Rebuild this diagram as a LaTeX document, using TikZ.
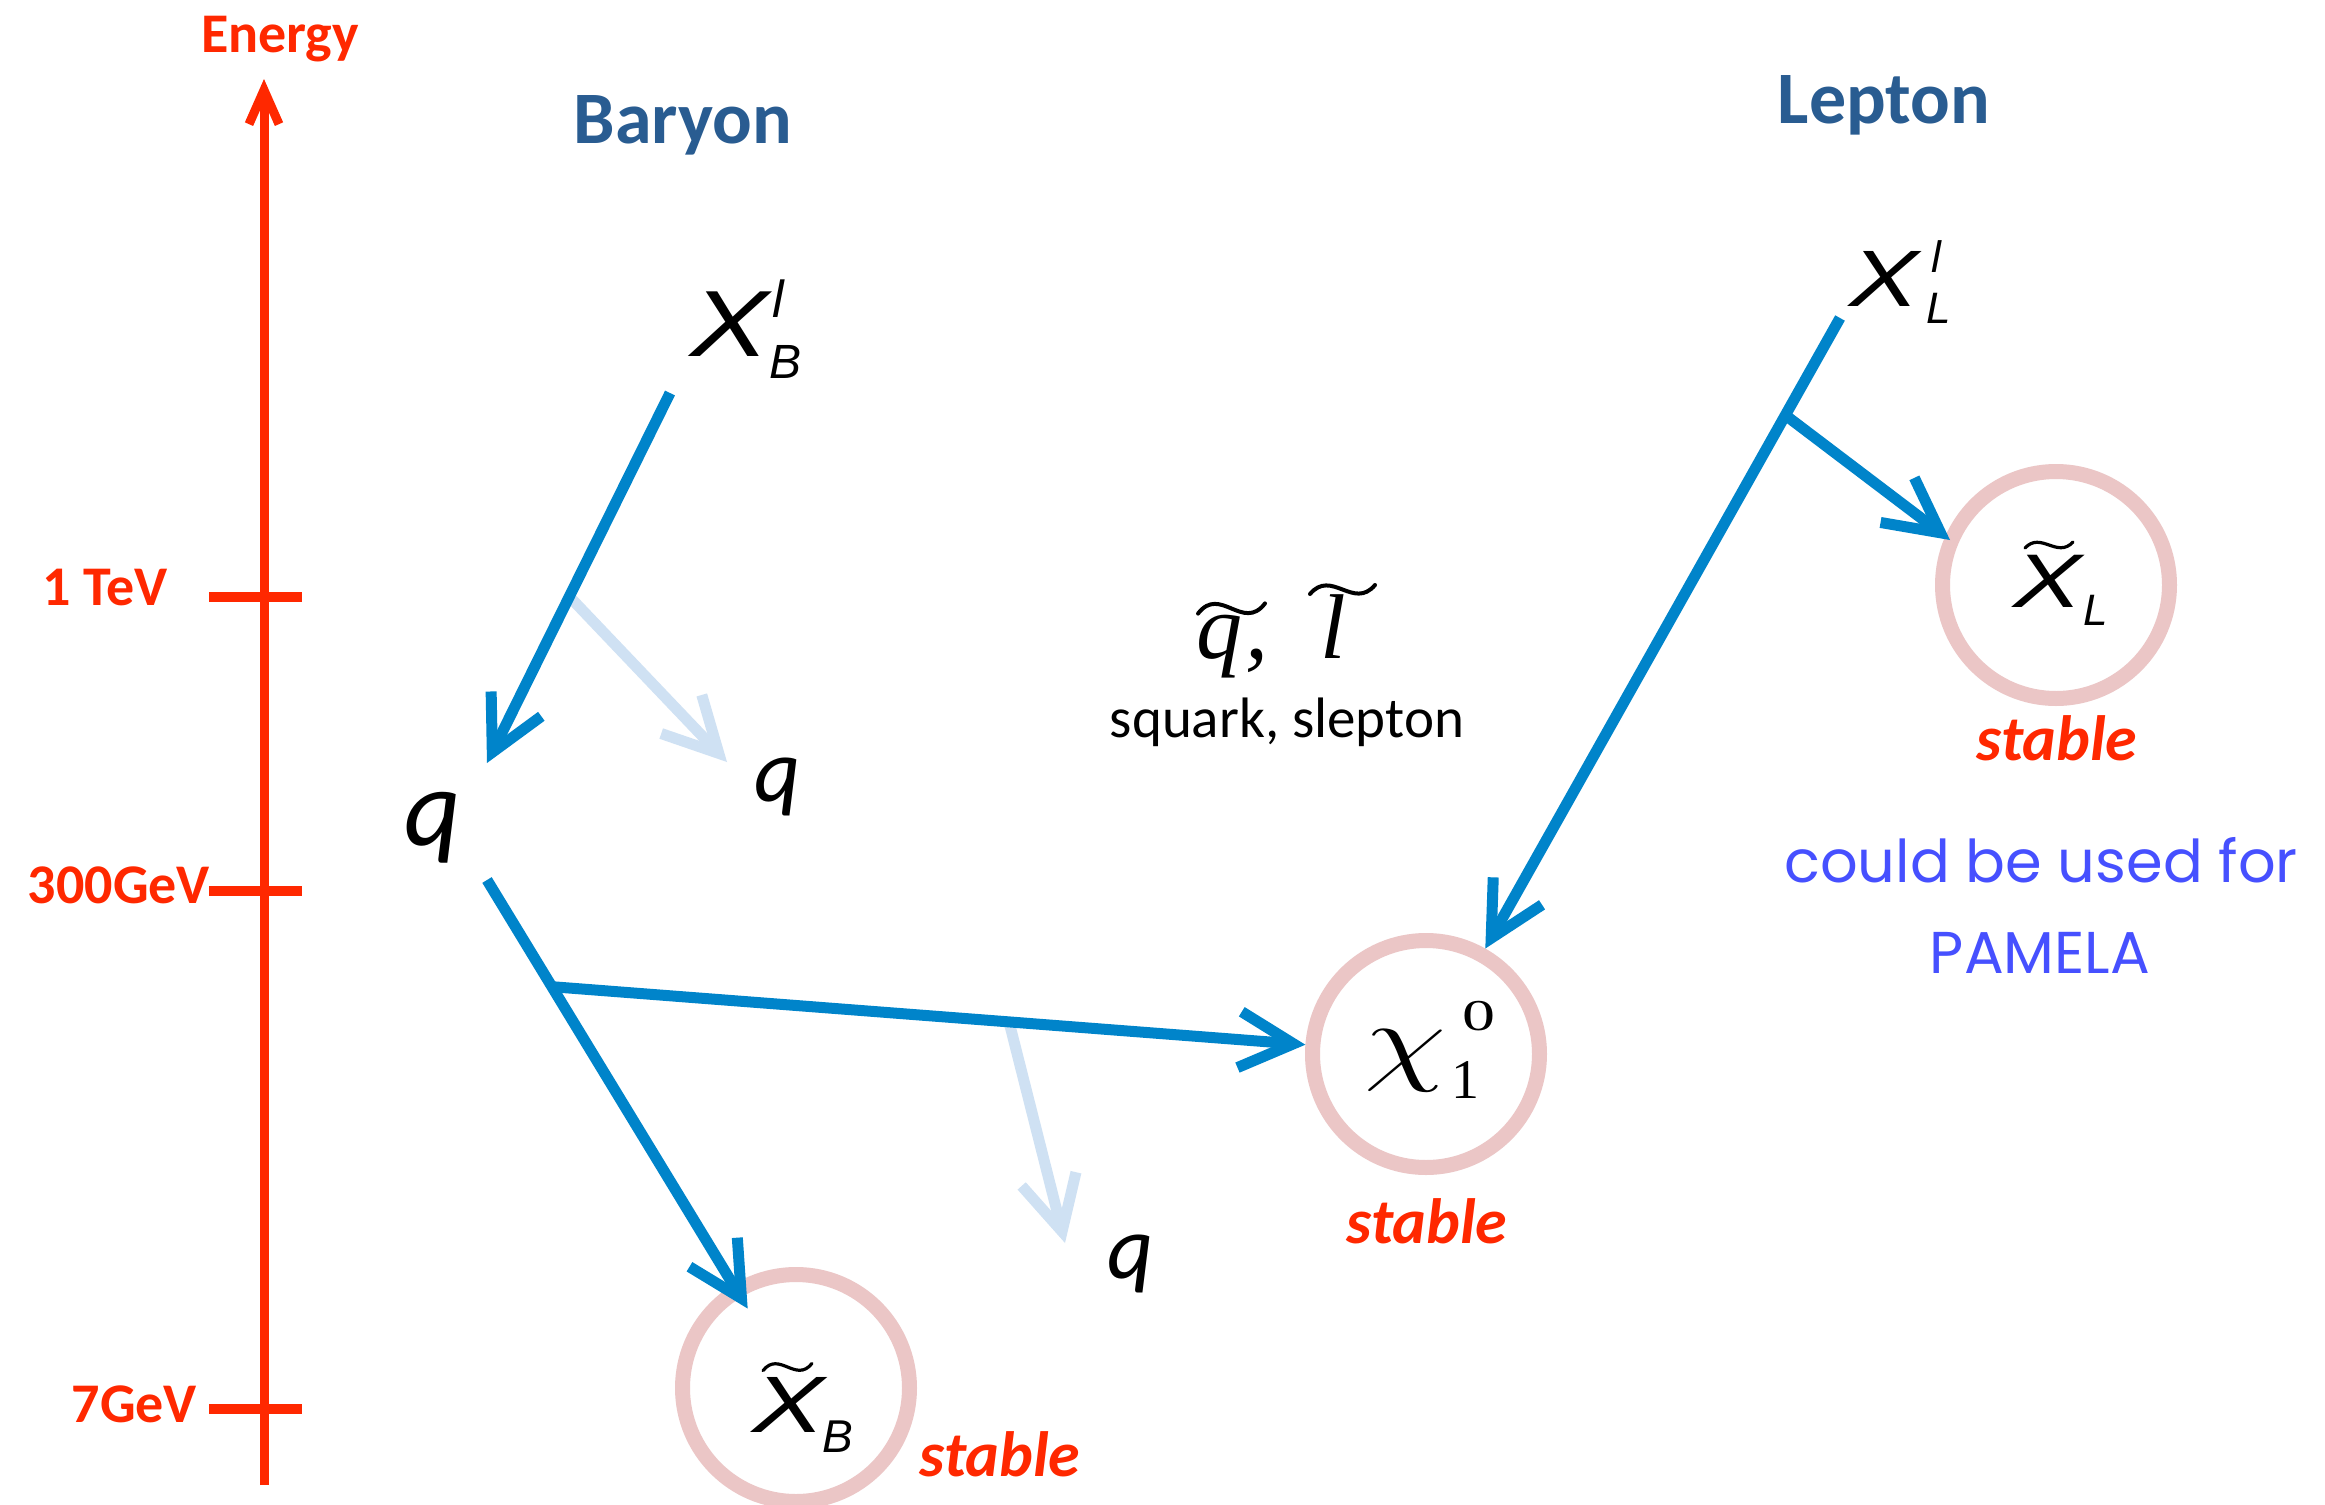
\RequirePackage{fix-cm}
\documentclass[tikz,border=0pt]{standalone}
\usepackage{fontspec}
\usepackage{graphicx}
\setmainfont{Carlito}
\newfontfamily\ars{Liberation Sans}
\newfontfamily\tms{Liberation Serif}
\newfontfamily\cmc{Poppins}
\usetikzlibrary{arrows.meta,calc}
\definecolor{arrblue}{RGB}{0,132,202}
\definecolor{lightarr}{RGB}{207,225,243}
\definecolor{ringpink}{RGB}{235,198,198}
\definecolor{axred}{RGB}{255,40,0}
\definecolor{headblue}{RGB}{41,92,145}
\definecolor{noteblue}{RGB}{70,80,255}
\newcommand\fsz[1]{\fontsize{#1}{#1}\selectfont}
\newcommand\wideX{\scalebox{1.25}[1]{X}}
\newcommand\tildeat[5]{\draw[line width=#5, line cap=round] (#1,{#2+0.8*#4}) .. controls ({#1+0.33*#3},{#2-0.9*#4}) and ({#1+0.67*#3},{#2+1.9*#4}) .. ({#1+#3},{#2+0.2*#4});}
\tikzset{
  txt/.style={inner sep=0pt, outer sep=0pt},
  decay/.style={draw=arrblue, line width=5.5pt, -{Straight Barb[length=27pt,width=28pt]}},
  faint/.style={draw=lightarr, line width=5.5pt, -{Straight Barb[length=27pt,width=28pt]}},
  ring/.style={circle, draw=ringpink, line width=7.5pt, inner sep=0pt},
  axisline/.style={draw=axred, line width=4.5pt},
  tickline/.style={draw=axred, line width=5pt},
  axlabel/.style={txt, font=\bfseries\fsz{28}, text=axred},
  head/.style={txt, font=\bfseries\fsz{37}, text=headblue, anchor=base},
  stab/.style={txt, font=\bfseries\itshape\fsz{32}, text=axred, anchor=base},
  sansit/.style={txt, font=\ars\itshape, anchor=base west},
  qlab/.style={txt, font=\itshape},
  note/.style={txt, font=\cmc\fsz{29.5}, text=noteblue, anchor=base},
}
\begin{document}
\begin{tikzpicture}[x=0.5pt,y=-0.5pt]
\fill[white] (0,0) rectangle (2325,1505);
\useasboundingbox (0,0) rectangle (2325,1505);

% energy axis
\coordinate (ebot) at (264,1485);
\coordinate (etop) at (264,79);
\draw[axisline, -{Straight Barb[length=17pt,width=15pt]}] (ebot) -- (etop);
\draw[tickline] (209,597) -- (302,597);
\draw[tickline] (209,891) -- (302,891);
\draw[tickline] (209,1409) -- (302,1409);
\node[axlabel, anchor=base] (energy) at (280,52) {Energy};
\node[axlabel, anchor=base east] (tev) at (168,605) {1 TeV};
\node[axlabel, anchor=base east] (g300) at (210,903) {300GeV};
\node[axlabel, anchor=base east] (g7) at (197,1422) {7GeV};

% headings
\node[head] (baryon) at (683,143) {Baryon};
\node[head] (lepton) at (1884,123) {Lepton};

% X'_B and X'_L
\node[sansit, font=\ars\itshape\fsz{47}] (xb) at (690,356) {\wideX};
\node[sansit, font=\ars\itshape\fsz{26}] (xbsup) at (772,317) {l};
\node[sansit, font=\ars\itshape\fsz{24}] (xbsub) at (769,378) {B};
\node[sansit, font=\ars\itshape\fsz{40}] (xl) at (1849,306) {\scalebox{1.3}[1]{X}};
\node[sansit, font=\ars\itshape\fsz{22}] (xlsup) at (1931,272) {l};
\node[sansit, font=\ars\itshape\fsz{22}] (xlsub) at (1926,323) {L};

% quarks
\node[qlab, font=\itshape\fsz{55}] (qa) at (433,828) {q};
\node[qlab, font=\itshape\fsz{45}] (qb) at (778,787) {q};
\node[qlab, font=\itshape\fsz{45}] (qc) at (1131,1264) {q};

% squark, slepton
\node[txt, font=\tms\itshape\fsz{46}, anchor=base west] (qt) at (1196,658) {q\kern2pt,};
\node[txt, font=\tms\itshape\fsz{46}, anchor=base west] (lt) at (1320,658) {l};
\tildeat{1198}{600}{67}{17}{2pt}
\tildeat{1310}{582}{65}{15}{2pt}
\node[txt, font=\fsz{28.5}, anchor=base] (sql) at (1287,737) {squark, slepton};

% rings
\node[ring, minimum size=113.5pt] (chi) at (1426,1054) {};
\node[ring, minimum size=113.5pt] (xbc) at (796,1388) {};
\node[ring, minimum size=113.5pt] (xlc) at (2056,585) {};

% ring contents
\node[txt, font=\fsz{49.5}] (chix) at (1405,1061) {\scalebox{1.35}[1]{$\chi$}};
\node[txt, font=\tms\fsz{28}, anchor=base west] (chisub) at (1451,1098) {1};
\node[txt, font=\tms\fsz{22}, anchor=base west] (chisup) at (1462,1030) {\scalebox{1.5}[1]{0}};
\node[sansit, font=\ars\itshape\fsz{40}] (xbt) at (752,1432) {\scalebox{1.35}[1]{X}};
\node[sansit, font=\ars\itshape\fsz{23}] (xbts) at (822,1452) {B};
\tildeat{763}{1361}{49}{12}{1.6pt}
\node[sansit, font=\ars\itshape\fsz{38}] (xlt) at (2013,607) {\scalebox{1.35}[1]{X}};
\node[sansit, font=\ars\itshape\fsz{22}] (xlts) at (2083,625) {L};
\tildeat{2025}{540}{48}{10}{1.6pt}

% stable labels
\node[stab] (st1) at (1427,1243) {stable};
\node[stab] (st2) at (1000,1476) {stable};
\node[stab] (st3) at (2057,760) {stable};

% note
\node[note] (cbu) at (2041,882) {could be used for};
\node[note] (pam) at (2040,973) {PAMELA};

% arrows
\coordinate (a1s) at (670,393);
\coordinate (a1e) at (487,763);
\coordinate (a2s) at ($(a1s)!0.55!(a1e)$);
\coordinate (a2e) at (727,762);
\coordinate (a3s) at (487,880);
\coordinate (a4s) at ($(a3s)!0.21!(xbc.center)$);
\coordinate (a5s) at ($(a4s)!0.523!(chi.center)$);
\coordinate (a5e) at (1065,1243);
\coordinate (a6s) at (1840,318);
\coordinate (a7s) at ($(a6s)!0.132!(chi.center)$);
\coordinate (a7e) at (1950,540);

\draw[faint] (a2s) -- (a2e);
\draw[faint] (a5s) -- (a5e);
\draw[decay] (a1s) -- (a1e);
\draw[decay, shorten >=46.5pt] (a3s) -- (xbc.center);
\draw[decay] (a4s) -- (chi);
\draw[decay] (a6s) -- (chi);
\draw[decay] (a7s) -- (a7e);
\end{tikzpicture}
\end{document}
